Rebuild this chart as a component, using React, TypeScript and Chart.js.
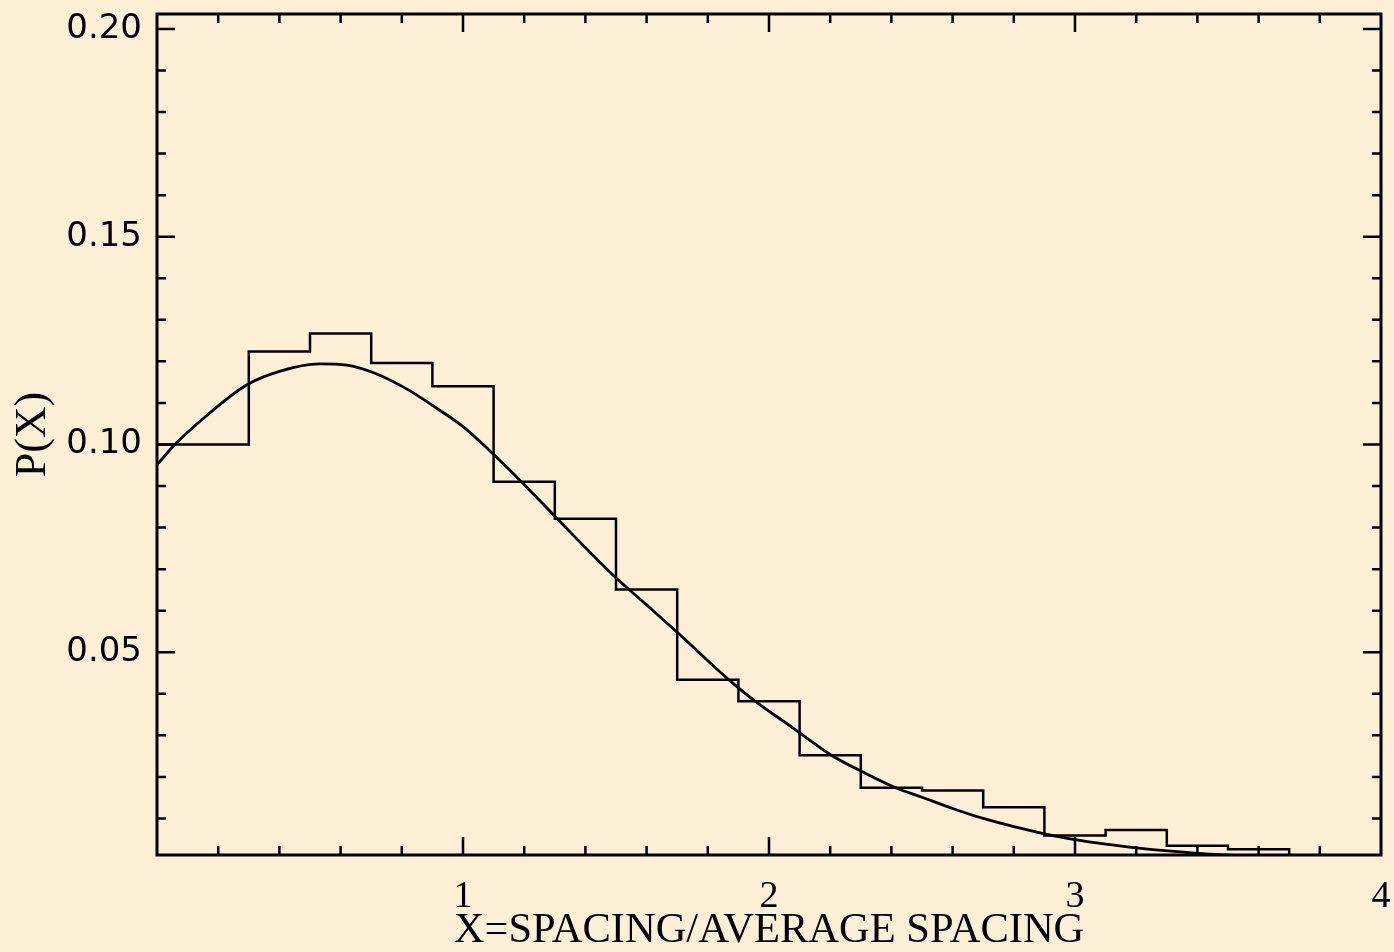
import React, { useEffect, useRef } from "react";
import { Chart, registerables } from "chart.js";

Chart.register(...registerables);

// Histogram: left edge of each bin and its level (last entry closes the histogram)
const binEdges = [0, 0.3, 0.5, 0.7, 0.9, 1.1, 1.3, 1.5, 1.7, 1.9, 2.1, 2.3, 2.5, 2.7, 2.9, 3.1, 3.3, 3.5, 3.7];
const binValues = [0.1, 0.1224, 0.1267, 0.1196, 0.114, 0.091, 0.0821, 0.0651, 0.0434, 0.0382, 0.0252, 0.0174, 0.0167, 0.0127, 0.0059, 0.0072, 0.0034, 0.0026, 0];

// Smooth theoretical curve
const curveX = [0, 0.06, 0.16, 0.29, 0.4, 0.53, 0.62, 0.71, 0.82, 0.9, 1.0, 1.09, 1.19, 1.29, 1.49, 1.6, 1.7, 1.87, 1.95, 2.08, 2.2, 2.3, 2.41, 2.5, 2.6, 2.7, 2.9, 3.0, 3.1, 3.2, 3.4, 3.6, 3.8, 4.0];
const curveY = [0.0951, 0.1001, 0.1068, 0.1142, 0.1176, 0.1194, 0.1191, 0.1172, 0.1132, 0.1094, 0.1043, 0.0983, 0.0911, 0.0835, 0.0686, 0.0614, 0.0548, 0.0433, 0.0385, 0.0317, 0.0254, 0.0214, 0.0175, 0.0151, 0.0124, 0.01, 0.0063, 0.0049, 0.0038, 0.0029, 0.0016, 0.0009, 0.0005, 0.0003];

// Axis ticks
const xTickValues = [1, 2, 3, 4];
const yTickValues = [0.05, 0.1, 0.15, 0.2];
const xMinorStep = 0.2;
const yMinorStep = 0.01;
const X_MIN = 0;
const X_MAX = 4;
const Y_MIN = 0.0012;
const Y_MAX = 0.2036;

const BG = "#FBEFD6";

const backgroundPlugin = {
  id: "bgFill",
  beforeDraw(chart: any) {
    const { ctx, width, height } = chart;
    ctx.save();
    ctx.fillStyle = BG;
    ctx.fillRect(0, 0, width, height);
    ctx.restore();
  },
};

const framePlugin = {
  id: "frameTicks",
  afterDatasetsDraw(chart: any) {
    const { ctx, chartArea, scales } = chart;
    const { left, right, top, bottom } = chartArea;
    const xs = scales.x;
    const ys = scales.y;
    ctx.save();
    ctx.strokeStyle = "#000";
    ctx.lineCap = "butt";
    ctx.lineWidth = 2.5;
    ctx.beginPath();
    const nx = Math.round((X_MAX - X_MIN) / xMinorStep);
    for (let i = 1; i < nx; i++) {
      const v = X_MIN + i * xMinorStep;
      const major = Math.abs(v - Math.round(v)) < 1e-6;
      const len = major ? 18 : 9;
      const px = xs.getPixelForValue(v);
      ctx.moveTo(px, bottom);
      ctx.lineTo(px, bottom - len);
      ctx.moveTo(px, top);
      ctx.lineTo(px, top + len);
    }
    const ny = Math.floor((Y_MAX + 1e-9) / yMinorStep);
    for (let i = 1; i <= ny; i++) {
      const v = i * yMinorStep;
      if (v <= Y_MIN) continue;
      const major = yTickValues.some((t) => Math.abs(t - v) < 1e-6);
      const len = major ? 18 : 9;
      const py = ys.getPixelForValue(v);
      ctx.moveTo(left, py);
      ctx.lineTo(left + len, py);
      ctx.moveTo(right, py);
      ctx.lineTo(right - len, py);
    }
    ctx.stroke();
    ctx.lineWidth = 3;
    ctx.strokeRect(left, top, right - left, bottom - top);
    ctx.restore();
  },
};

export default function App() {
  const canvasRef = useRef<HTMLCanvasElement | null>(null);

  useEffect(() => {
    const canvas = canvasRef.current;
    if (!canvas) return;
    const chart = new Chart(canvas, {
      type: "line",
      data: {
        datasets: [
          {
            label: "histogram",
            data: binEdges.map((x, i) => ({ x, y: binValues[i] })),
            stepped: true,
            borderColor: "#000",
            borderWidth: 2.5,
            pointRadius: 0,
            fill: false,
          },
          {
            label: "curve",
            data: curveX.map((x, i) => ({ x, y: curveY[i] })),
            borderColor: "#000",
            borderWidth: 2.8,
            pointRadius: 0,
            tension: 0.4,
            cubicInterpolationMode: "monotone",
            fill: false,
          },
        ],
      },
      options: {
        animation: false,
        responsive: false,
        devicePixelRatio: 1,
        layout: { padding: { left: 0, top: 14, right: 13, bottom: 0 } },
        plugins: {
          legend: { display: false },
          tooltip: { enabled: false },
        },
        scales: {
          x: {
            type: "linear",
            min: X_MIN,
            max: X_MAX,
            afterBuildTicks: (s: any) => {
              s.ticks = xTickValues.map((v) => ({ value: v }));
            },
            afterFit: (s: any) => {
              s.height = 97;
              s.paddingLeft = 0;
              s.paddingRight = 0;
              s.paddingTop = 0;
              s.paddingBottom = 0;
            },
            grid: { display: false },
            border: { display: false },
            ticks: {
              padding: 11,
              color: "#000",
              maxRotation: 0,
              autoSkip: false,
              font: { family: "Liberation Serif", size: 38 },
              callback: (v: any) => String(v),
            },
            title: {
              display: true,
              text: "X=SPACING/AVERAGE SPACING",
              color: "#000",
              font: { family: "Liberation Serif", size: 42.5, lineHeight: 1 },
              padding: { top: 0, bottom: 0 },
            },
          },
          y: {
            type: "linear",
            min: Y_MIN,
            max: Y_MAX,
            afterBuildTicks: (s: any) => {
              s.ticks = yTickValues.map((v) => ({ value: v }));
            },
            afterFit: (s: any) => {
              s.width = 157;
              s.paddingLeft = 0;
              s.paddingRight = 0;
              s.paddingTop = 0;
              s.paddingBottom = 0;
            },
            grid: { display: false },
            border: { display: false },
            ticks: {
              padding: 7,
              color: "#000",
              autoSkip: false,
              font: { family: "DejaVu Sans", size: 34 },
              callback: (v: any) => Number(v).toFixed(2),
            },
            title: {
              display: true,
              text: "P(X)",
              color: "#000",
              font: { family: "Liberation Serif", size: 44, lineHeight: 1 },
              padding: { top: 11, bottom: 0 },
            },
          },
        },
      },
      plugins: [backgroundPlugin, framePlugin],
    } as any);
    return () => chart.destroy();
  }, []);

  return (
    <div
      style={{
        position: "fixed",
        left: 0,
        top: 0,
        width: 1394,
        height: 952,
        background: BG,
      }}
    >
      <canvas ref={canvasRef} width={1394} height={952} style={{ display: "block" }} />
    </div>
  );
}
